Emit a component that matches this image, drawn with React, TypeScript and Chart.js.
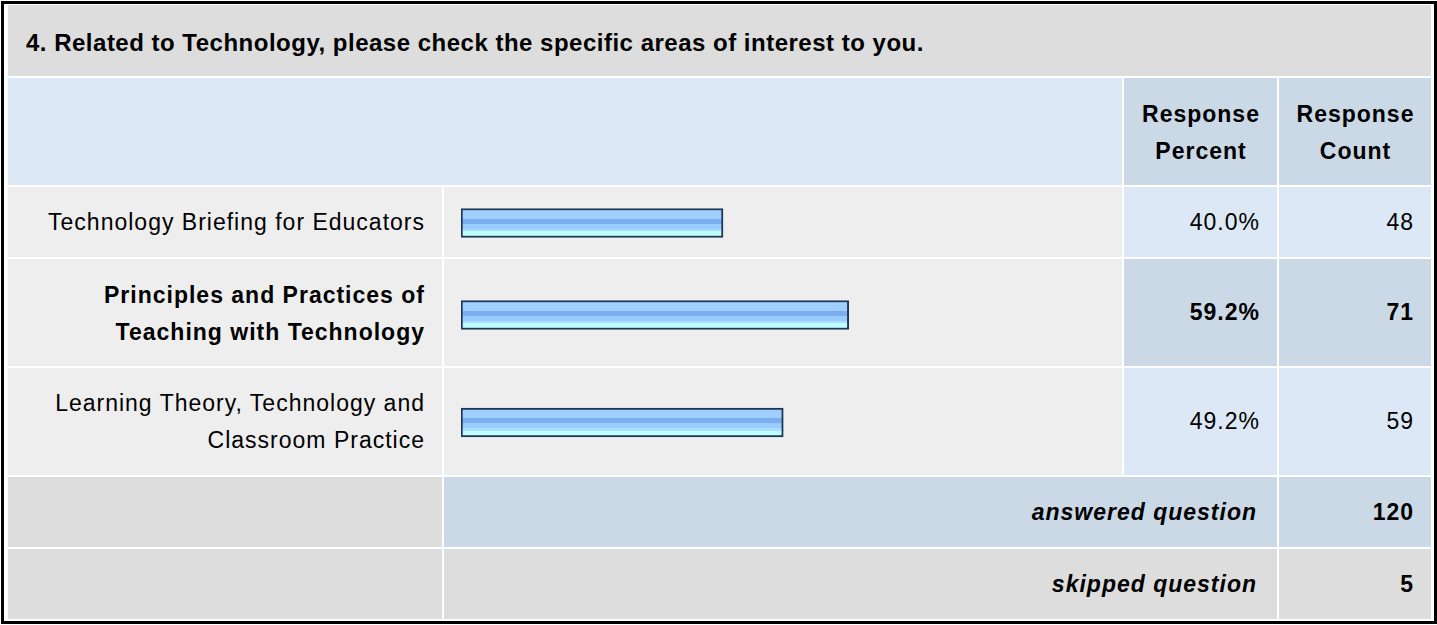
import React, { useEffect, useRef } from "react";
import { Chart, registerables } from "chart.js";

Chart.register(...registerables);

const questionTitle = "4. Related to Technology, please check the specific areas of interest to you.";
const headerPercent = ["Response", "Percent"];
const headerCount = ["Response", "Count"];
const categoryLines: string[][] = [
  ["Technology Briefing for Educators"],
  ["Principles and Practices of", "Teaching with Technology"],
  ["Learning Theory, Technology and", "Classroom Practice"],
];
const responsePercent = [40.0, 59.2, 49.2];
const responseCount = [48, 71, 59];
const highlightedRow = 1;
const answeredQuestion = 120;
const skippedQuestion = 5;

const FONT = '"Liberation Sans", Arial, Helvetica, sans-serif';
const GRAY = "#DDDDDD";
const LIGHT = "#EEEEEE";
const BLUE = "#DCE8F5";
const BLUE2 = "#CBD8E6";

// grid geometry (page px)
const COLS = [
  [8, 442],
  [444, 1122],
  [1124, 1277],
  [1279, 1431],
];
const ROWS = [
  [5, 76],
  [78, 185],
  [187, 257],
  [259, 366],
  [368, 475],
  [477, 547],
  [549, 619],
];

function cellBox(c0: number, c1: number, r: number): React.CSSProperties {
  return {
    position: "absolute",
    left: COLS[c0][0],
    width: COLS[c1][1] - COLS[c0][0],
    top: ROWS[r][0],
    height: ROWS[r][1] - ROWS[r][0],
    boxSizing: "border-box",
    display: "flex",
    alignItems: "center",
  };
}

const BAR_H = 29;

function BarCell({ value, r, shift }: { value: number; r: number; shift: number }) {
  const w = COLS[1][1] - COLS[1][0];
  const h = ROWS[r][1] - ROWS[r][0];
  const ref = useRef<HTMLCanvasElement | null>(null);
  useEffect(() => {
    const cv = ref.current;
    if (!cv) return;
    const chart = new Chart(cv, {
      type: "bar",
      data: {
        labels: [""],
        datasets: [
          {
            data: [value],
            barThickness: BAR_H,
            borderWidth: 2,
            borderColor: "#1E3558",
            borderSkipped: false,
            backgroundColor: (ctx: any) => {
              const c = ctx.chart;
              const area = c.chartArea;
              if (!area) return "#99CCFF";
              const mid = (area.top + area.bottom) / 2;
              const top = mid - BAR_H / 2;
              const g = c.ctx.createLinearGradient(0, top, 0, top + BAR_H);
              const s = (px: number) => Math.min(1, Math.max(0, px / BAR_H));
              g.addColorStop(0, "#9ECFFF");
              g.addColorStop(s(10.4), "#9ECFFF");
              g.addColorStop(s(10.41), "#7BAEEE");
              g.addColorStop(s(15.4), "#7BAEEE");
              g.addColorStop(s(15.41), "#99CCFF");
              g.addColorStop(s(20.4), "#99CCFF");
              g.addColorStop(s(20.41), "#AADDFF");
              g.addColorStop(s(22.7), "#AADDFF");
              g.addColorStop(s(22.71), "#BBFFFF");
              g.addColorStop(1, "#BBFFFF");
              return g;
            },
          },
        ],
      },
      options: {
        indexAxis: "y",
        animation: false,
        responsive: false,
        maintainAspectRatio: false,
        layout: { padding: { left: 17, right: 6, top: shift, bottom: 0 } },
        plugins: { legend: { display: false }, tooltip: { enabled: false }, title: { display: false } },
        scales: {
          x: { min: 0, max: 100, display: false },
          y: { display: false },
        },
      },
    });
    return () => chart.destroy();
  }, [value, shift]);
  return (
    <div style={{ ...cellBox(1, 1, r), background: LIGHT }}>
      <canvas ref={ref} width={w} height={h} style={{ width: w, height: h, display: "block" }} />
    </div>
  );
}

const textBase: React.CSSProperties = {
  fontFamily: FONT,
  color: "#000",
  lineHeight: "37px",
  fontSize: 23,
  letterSpacing: "1px",
};

export default function App() {
  useEffect(() => {
    document.body.style.margin = "0";
    document.body.style.background = "#fff";
  }, []);

  const rightCell = (c0: number, c1: number, r: number, bg: string, extra: React.CSSProperties, content: React.ReactNode) => (
    <div
      style={{
        ...cellBox(c0, c1, r),
        background: bg,
        justifyContent: "flex-end",
        paddingRight: 17,
        textAlign: "right",
        ...textBase,
        ...extra,
      }}
    >
      <div>{content}</div>
    </div>
  );

  const barShift = [2, 5, 2];

  return (
    <div style={{ position: "relative", width: 1437, height: 625, overflow: "hidden", background: "#fff" }}>
      <div
        style={{
          position: "absolute",
          left: 1,
          top: 1,
          width: 1436,
          height: 623,
          boxSizing: "border-box",
          border: "3px solid #000",
        }}
      />
      {/* title */}
      <div
        style={{
          ...cellBox(0, 3, 0),
          background: GRAY,
          paddingLeft: 18,
          ...textBase,
          fontWeight: "bold",
          fontSize: 24,
          letterSpacing: "0.5px",
          paddingTop: 4,
          whiteSpace: "nowrap",
        }}
      >
        {questionTitle}
      </div>
      {/* header */}
      <div style={{ ...cellBox(0, 1, 1), background: BLUE }} />
      <div style={{ ...cellBox(2, 2, 1), background: BLUE2, justifyContent: "center", textAlign: "center", ...textBase, fontWeight: "bold", paddingTop: 3, paddingLeft: 1 }}>
        <div>
          {headerPercent.map((t, i) => (
            <div key={i}>{t}</div>
          ))}
        </div>
      </div>
      <div style={{ ...cellBox(3, 3, 1), background: BLUE2, justifyContent: "center", textAlign: "center", ...textBase, fontWeight: "bold", paddingTop: 3, paddingLeft: 1 }}>
        <div>
          {headerCount.map((t, i) => (
            <div key={i}>{t}</div>
          ))}
        </div>
      </div>
      {/* data rows */}
      {categoryLines.map((lines, i) => {
        const r = i + 2;
        const hl = i === highlightedRow;
        const fw = hl ? "bold" : "normal";
        return (
          <React.Fragment key={i}>
            {rightCell(0, 0, r, LIGHT, { fontWeight: fw, paddingTop: hl ? 3 : 0 }, lines.map((t, k) => <div key={k}>{t}</div>))}
            <BarCell value={responsePercent[i]} r={r} shift={barShift[i]} />
            {rightCell(2, 2, r, hl ? BLUE2 : BLUE, { fontWeight: fw }, responsePercent[i].toFixed(1) + "%")}
            {rightCell(3, 3, r, hl ? BLUE2 : BLUE, { fontWeight: fw }, String(responseCount[i]))}
          </React.Fragment>
        );
      })}
      {/* answered */}
      <div style={{ ...cellBox(0, 0, 5), background: GRAY }} />
      {rightCell(1, 2, 5, BLUE2, { fontWeight: "bold", fontStyle: "italic", paddingRight: 20 }, "answered question")}
      {rightCell(3, 3, 5, BLUE2, { fontWeight: "bold" }, String(answeredQuestion))}
      {/* skipped */}
      <div style={{ ...cellBox(0, 0, 6), background: GRAY }} />
      {rightCell(1, 2, 6, GRAY, { fontWeight: "bold", fontStyle: "italic", paddingRight: 20 }, "skipped question")}
      {rightCell(3, 3, 6, GRAY, { fontWeight: "bold" }, String(skippedQuestion))}
    </div>
  );
}
